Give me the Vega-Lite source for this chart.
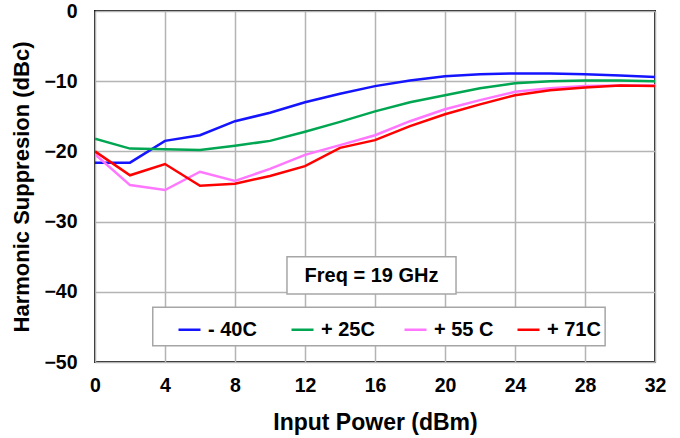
{
  "$schema": "https://vega.github.io/schema/vega-lite/v6.json",
  "width": 560,
  "height": 351,
  "autosize": {"type": "none"},
  "padding": {"left": 95, "top": 11, "right": 25, "bottom": 76},
  "background": "white",
  "config": {
    "font": "Liberation Sans",
    "view": {"stroke": "#1a1a1a", "strokeWidth": 2},
    "axis": {
      "labelFont": "Liberation Sans",
      "labelFontWeight": "bold",
      "labelFontSize": 19.5,
      "labelColor": "#000",
      "labelFlush": false,
      "labelOverlap": false,
      "titleFont": "Liberation Sans",
      "titleFontWeight": "bold",
      "titleFontSize": 22,
      "titleColor": "#000",
      "grid": true,
      "gridColor": "#b4b4b4",
      "gridWidth": 1.5,
      "domain": false,
      "ticks": false
    }
  },
  "layer": [
    {
      "data": {"values": [
        {"p": 0, "v": -21.6, "t": "- 40C"}, {"p": 2, "v": -21.6, "t": "- 40C"}, {"p": 4, "v": -18.5, "t": "- 40C"}, {"p": 6, "v": -17.7, "t": "- 40C"}, {"p": 8, "v": -15.7, "t": "- 40C"}, {"p": 10, "v": -14.5, "t": "- 40C"}, {"p": 12, "v": -13.0, "t": "- 40C"}, {"p": 14, "v": -11.8, "t": "- 40C"}, {"p": 16, "v": -10.7, "t": "- 40C"}, {"p": 18, "v": -9.9, "t": "- 40C"}, {"p": 20, "v": -9.3, "t": "- 40C"}, {"p": 22, "v": -9.0, "t": "- 40C"}, {"p": 24, "v": -8.9, "t": "- 40C"}, {"p": 26, "v": -8.9, "t": "- 40C"}, {"p": 28, "v": -9.0, "t": "- 40C"}, {"p": 30, "v": -9.2, "t": "- 40C"}, {"p": 32, "v": -9.4, "t": "- 40C"},
        {"p": 0, "v": -18.2, "t": "+ 25C"}, {"p": 2, "v": -19.6, "t": "+ 25C"}, {"p": 4, "v": -19.7, "t": "+ 25C"}, {"p": 6, "v": -19.8, "t": "+ 25C"}, {"p": 8, "v": -19.2, "t": "+ 25C"}, {"p": 10, "v": -18.5, "t": "+ 25C"}, {"p": 12, "v": -17.2, "t": "+ 25C"}, {"p": 14, "v": -15.8, "t": "+ 25C"}, {"p": 16, "v": -14.3, "t": "+ 25C"}, {"p": 18, "v": -13.0, "t": "+ 25C"}, {"p": 20, "v": -12.0, "t": "+ 25C"}, {"p": 22, "v": -11.0, "t": "+ 25C"}, {"p": 24, "v": -10.3, "t": "+ 25C"}, {"p": 26, "v": -10.0, "t": "+ 25C"}, {"p": 28, "v": -9.9, "t": "+ 25C"}, {"p": 30, "v": -9.9, "t": "+ 25C"}, {"p": 32, "v": -10.0, "t": "+ 25C"},
        {"p": 0, "v": -20.4, "t": "+ 55 C"}, {"p": 2, "v": -24.8, "t": "+ 55 C"}, {"p": 4, "v": -25.5, "t": "+ 55 C"}, {"p": 6, "v": -22.9, "t": "+ 55 C"}, {"p": 8, "v": -24.2, "t": "+ 55 C"}, {"p": 10, "v": -22.5, "t": "+ 55 C"}, {"p": 12, "v": -20.5, "t": "+ 55 C"}, {"p": 14, "v": -19.1, "t": "+ 55 C"}, {"p": 16, "v": -17.7, "t": "+ 55 C"}, {"p": 18, "v": -15.7, "t": "+ 55 C"}, {"p": 20, "v": -14.0, "t": "+ 55 C"}, {"p": 22, "v": -12.7, "t": "+ 55 C"}, {"p": 24, "v": -11.5, "t": "+ 55 C"}, {"p": 26, "v": -11.0, "t": "+ 55 C"}, {"p": 28, "v": -10.7, "t": "+ 55 C"}, {"p": 30, "v": -10.6, "t": "+ 55 C"}, {"p": 32, "v": -10.6, "t": "+ 55 C"},
        {"p": 0, "v": -20.0, "t": "+ 71C"}, {"p": 2, "v": -23.4, "t": "+ 71C"}, {"p": 4, "v": -21.8, "t": "+ 71C"}, {"p": 6, "v": -24.9, "t": "+ 71C"}, {"p": 8, "v": -24.6, "t": "+ 71C"}, {"p": 10, "v": -23.5, "t": "+ 71C"}, {"p": 12, "v": -22.1, "t": "+ 71C"}, {"p": 14, "v": -19.5, "t": "+ 71C"}, {"p": 16, "v": -18.4, "t": "+ 71C"}, {"p": 18, "v": -16.4, "t": "+ 71C"}, {"p": 20, "v": -14.7, "t": "+ 71C"}, {"p": 22, "v": -13.3, "t": "+ 71C"}, {"p": 24, "v": -12.0, "t": "+ 71C"}, {"p": 26, "v": -11.3, "t": "+ 71C"}, {"p": 28, "v": -10.9, "t": "+ 71C"}, {"p": 30, "v": -10.6, "t": "+ 71C"}, {"p": 32, "v": -10.7, "t": "+ 71C"}
      ]},
      "mark": {"type": "line", "strokeWidth": 2.5, "clip": true},
      "encoding": {
        "x": {
          "field": "p", "type": "quantitative",
          "scale": {"domain": [0, 32], "nice": false, "zero": false},
          "axis": {"values": [0, 4, 8, 12, 16, 20, 24, 28, 32], "labelPadding": 14, "title": "Input Power (dBm)", "titleFontSize": 23, "titlePadding": 17}
        },
        "y": {
          "field": "v", "type": "quantitative",
          "scale": {"domain": [-50, 0], "nice": false},
          "axis": {"values": [-50, -40, -30, -20, -10, 0], "labelPadding": 18, "title": "Harmonic Suppresion (dBc)", "titlePadding": 10}
        },
        "color": {
          "field": "t", "type": "nominal",
          "scale": {"domain": ["- 40C", "+ 25C", "+ 55 C", "+ 71C"], "range": ["#1414ff", "#00a651", "#ff77ff", "#ff0000"]},
          "legend": {
            "title": null,
            "orient": "none",
            "legendX": 82,
            "legendY": 306,
            "direction": "horizontal",
            "columns": 4,
            "gridAlign": "all",
            "columnPadding": 18,
            "padding": 0,
            "symbolType": "stroke",
            "symbolSize": 484,
            "symbolStrokeWidth": 2.5,
            "labelOffset": 6,
            "labelFont": "Liberation Sans",
            "labelFontWeight": "bold",
            "labelFontSize": 20,
            "labelColor": "#000"
          }
        }
      }
    },
    {
      "data": {"values": [{}]},
      "mark": {"type": "rect", "fill": "white", "stroke": "#a6a6a6", "strokeWidth": 1.5},
      "encoding": {
        "x": {"datum": 3.3, "type": "quantitative"},
        "x2": {"datum": 29.15},
        "y": {"datum": -42.2, "type": "quantitative"},
        "y2": {"datum": -47.7}
      }
    },
    {
      "data": {"values": [{}]},
      "mark": {"type": "rect", "fill": "white", "stroke": "#a6a6a6", "strokeWidth": 1.5},
      "encoding": {
        "x": {"datum": 10.97, "type": "quantitative"},
        "x2": {"datum": 20.63},
        "y": {"datum": -35.0, "type": "quantitative"},
        "y2": {"datum": -40.3}
      }
    },
    {
      "data": {"values": [{"label": "Freq = 19 GHz"}]},
      "mark": {"type": "text", "font": "Liberation Sans", "fontWeight": "bold", "fontSize": 20, "color": "#000", "align": "center", "baseline": "middle"},
      "encoding": {
        "x": {"datum": 15.8, "type": "quantitative"},
        "y": {"datum": -37.7, "type": "quantitative"},
        "text": {"field": "label"}
      }
    }
  ]
}
